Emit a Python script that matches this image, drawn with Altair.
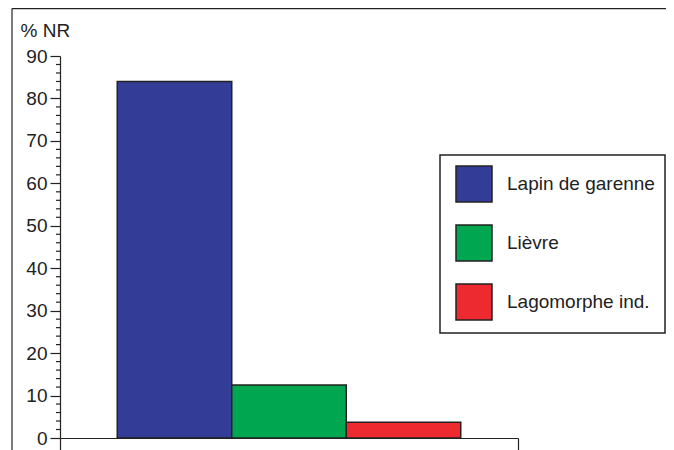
import altair as alt
import pandas as pd

categories = ["Lapin de garenne", "Lièvre", "Lagomorphe ind."]
values = [84, 12.5, 3.7]
colors = ["#333C96", "#00A650", "#EC2A2F"]
y_ticks = list(range(0, 91, 10))
y_minor = [v for v in range(0, 91, 2) if v % 10]
x_ends = [0, 4]

FONT = "Liberation Sans"
INK = "#222222"
W, H = 458, 382

df = pd.DataFrame({"cat": categories, "val": values, "idx": [1, 2, 3]})
df["x0"] = df["idx"] - 0.5
df["x1"] = df["idx"] + 0.5
df["base"] = 0

y_scale = alt.Scale(domain=[0, 90], nice=False)
y_axis = alt.Axis(values=y_ticks, tickSize=10, labelFontSize=19,
                  labelFont=FONT, labelColor=INK, labelPadding=3,
                  title="% NR", titleAngle=0, titleAlign="left",
                  titleBaseline="alphabetic", titleX=-40, titleY=-20,
                  titleFont=FONT, titleFontSize=19,
                  titleFontWeight="normal", titleColor=INK,
                  grid=False, domainColor=INK, tickColor=INK,
                  domainWidth=1.2, tickWidth=1.2)

bars = alt.Chart(df).mark_rect(stroke=INK, strokeWidth=1.5, opacity=1).encode(
    x=alt.X("x0:Q",
            scale=alt.Scale(domain=x_ends, nice=False, zero=False),
            axis=alt.Axis(values=x_ends, labels=False, tickSize=12, title=None,
                          grid=False, domainColor=INK, tickColor=INK,
                          domainWidth=1.2, tickWidth=1.2)),
    x2="x1:Q",
    y=alt.Y("val:Q", scale=y_scale, axis=y_axis),
    y2="base:Q",
    color=alt.Color("cat:N",
                    scale=alt.Scale(domain=categories, range=colors),
                    sort=categories,
                    legend=alt.Legend(title=None, orient="none",
                                      legendX=380, legendY=99)),
)

minor = alt.Chart(pd.DataFrame({"m": y_minor})).mark_rule(
    color=INK, strokeWidth=1.2).encode(
    y=alt.Y("m:Q", scale=y_scale, axis=y_axis),
    x=alt.value(-4), x2=alt.value(0),
)

border_left = alt.Chart(pd.DataFrame({"a": [0]})).mark_rule(
    color=INK, strokeWidth=1.2).encode(
    x=alt.value(-48), y=alt.value(-47.4), y2=alt.value(400))
border_top = alt.Chart(pd.DataFrame({"a": [0]})).mark_rule(
    color=INK, strokeWidth=1.2).encode(
    x=alt.value(-48), x2=alt.value(620), y=alt.value(-47.4))

chart = alt.layer(bars, minor, border_left, border_top).properties(
    width=W, height=H,
    autosize=alt.AutoSizeParams(type="none"),
    padding={"left": 52, "top": 48, "right": 148, "bottom": 12},
    background="white",
).configure_view(stroke=None).configure_legend(
    strokeColor=INK, strokeWidth=1.5, padding=10, symbolOffset=5,
    symbolType="square", symbolSize=1296, symbolStrokeColor=INK,
    symbolStrokeWidth=1.5, symbolOpacity=1, labelFont=FONT,
    labelFontSize=19, labelColor=INK, labelOffset=14, rowPadding=17,
    labelLimit=300, fillColor="white",
)

chart.save("out.html", embed_options={"renderer": "svg", "actions": False})
